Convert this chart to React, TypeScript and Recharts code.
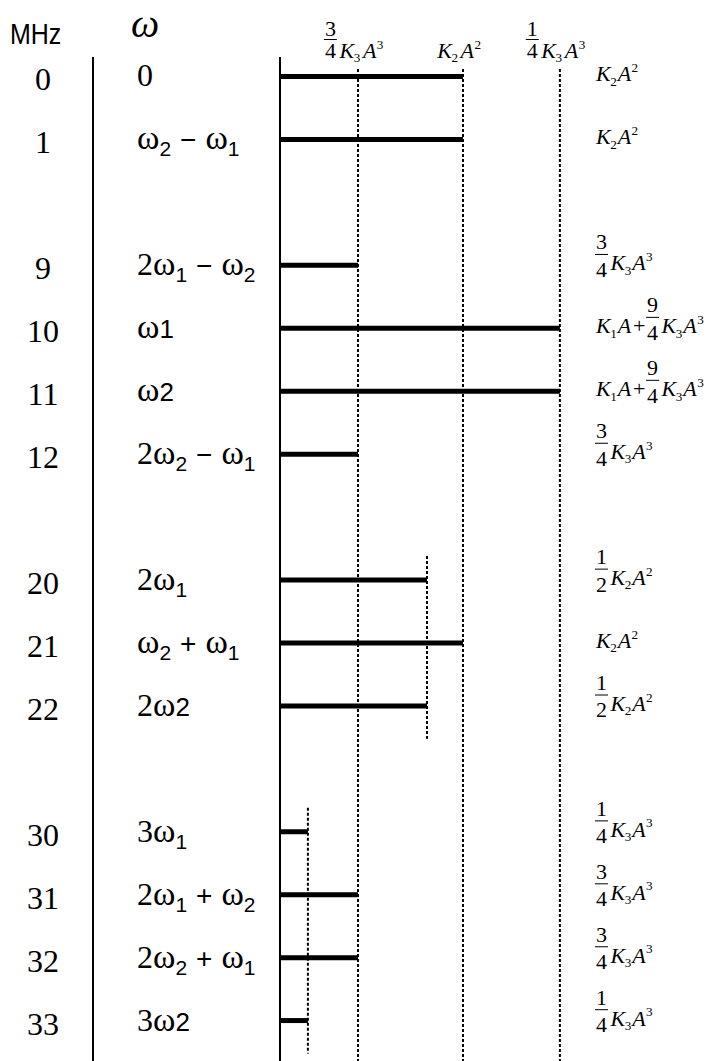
import React from "react";
import { BarChart, Bar, XAxis, YAxis, ReferenceLine } from "recharts";

const SERIF = "'Liberation Serif', 'Times New Roman', serif";
const SANS = "'Liberation Sans', Arial, sans-serif";

// one entry per row, blank rows are the gaps between the groups
const mhzLabels = ["0", "1", "", "9", "10", "11", "12", "", "20", "21", "22", "", "30", "31", "32", "33"];
const omegaLabels = [
  "0", "ω_2 − ω_1", "", "2ω_1 − ω_2", "ω1", "ω2", "2ω_2 − ω_1", "",
  "2ω_1", "ω_2 + ω_1", "2ω2", "", "3ω_1", "2ω_1 + ω_2", "2ω_2 + ω_1", "3ω2",
];
const amplitudeLabels = [
  "K_2 A^2", "K_2 A^2", "", "3/4 K_3 A^3", "K_1 A + 9/4 K_3 A^3", "K_1 A + 9/4 K_3 A^3", "3/4 K_3 A^3", "",
  "1/2 K_2 A^2", "K_2 A^2", "1/2 K_2 A^2", "", "1/4 K_3 A^3", "3/4 K_3 A^3", "3/4 K_3 A^3", "1/4 K_3 A^3",
];
// schematic line lengths, 0..100 across the plot
const amplitudes = [61, 61, null, 26, 93.3, 93.3, 26, null, 49, 61, 49, null, 9.3, 26, 26, 9.3];

// dotted guides
const guideLevels = [26, 61, 93.3];
const guideLabels = ["3/4 K_3 A^3", "K_2 A^2", "1/4 K_3 A^3"];
const shortGuides = [
  { level: 49, from: "20", to: "22" },
  { level: 9.3, from: "30", to: "33" },
];

const rows = mhzLabels.map((m, i) => ({
  key: m || `gap${i}`,
  mhz: m,
  omega: omegaLabels[i],
  amp: amplitudeLabels[i],
  value: amplitudes[i],
}));
const rowByKey: Record<string, any> = {};
rows.forEach((r) => (rowByKey[r.key] = r));

// Times italic advance widths (em)
const LETTER_W: Record<string, number> = { K: 0.667, A: 0.611 };

type FracStyle = { num: number; bar: number; den: number; gap: number };
const ROW_FRAC: FracStyle = { num: -0.95, bar: -0.72, den: 0.3, gap: 0.32 };
const HEAD_FRAC: FracStyle = { num: -1.0, bar: -0.84, den: 0, gap: 0.4 };

// draws things like "K_1 A + 9/4 K_3 A^3", x is the left edge, y the baseline
const formula = (src: string, fs: number, x0: number, y: number, fr: FracStyle) => {
  const out: React.ReactNode[] = [];
  let x = x0;
  const small = fs * 0.6;
  src.split(" ").forEach((tok, i) => {
    if (tok.includes("/")) {
      const [n, d] = tok.split("/");
      const w = 0.5 * fs;
      out.push(
        <g key={i}>
          <text x={x + w / 2} y={y + fr.num * fs} fontSize={fs} fontFamily={SERIF} textAnchor="middle">{n}</text>
          <line x1={x - 1} x2={x + w + 1} y1={y + fr.bar * fs} y2={y + fr.bar * fs} stroke="#000" strokeWidth={1} />
          <text x={x + w / 2} y={y + fr.den * fs} fontSize={fs} fontFamily={SERIF} textAnchor="middle">{d}</text>
        </g>
      );
      x += w + 0.16 * fs;
    } else if (tok === "+") {
      x += 0.08 * fs;
      out.push(<text key={i} x={x} y={y} fontSize={fs} fontFamily={SERIF}>+</text>);
      x += 0.564 * fs + 0.08 * fs;
    } else {
      const m = tok.match(/^([A-Z])(?:_(\d))?(?:\^(\d))?$/);
      if (!m) return;
      out.push(<text key={i} x={x} y={y} fontSize={fs} fontFamily={SERIF} fontStyle="italic">{m[1]}</text>);
      x += (LETTER_W[m[1]] || 0.6) * fs;
      if (m[2]) {
        out.push(<text key={i + "s"} x={x - 0.02 * fs} y={y + 0.2 * fs} fontSize={small} fontFamily={SERIF}>{m[2]}</text>);
        x += fr.gap * fs;
      }
      if (m[3]) {
        out.push(<text key={i + "p"} x={x + 0.02 * fs} y={y - 0.42 * fs} fontSize={small} fontFamily={SERIF}>{m[3]}</text>);
        x += fr.gap * fs;
      }
    }
  });
  return { nodes: out, width: x - x0 };
};

// omega expressions: "ω_1" lowered small subscript, "ω1" plain sans digit
const omegaText = (src: string) => {
  const toks = src.match(/ω|_\d|\d|[−+]|\s+/g) || [];
  const spans: React.ReactNode[] = [];
  let prev = "";
  let shift = 0;
  let pad = 0;
  toks.forEach((t, i) => {
    if (/^\s+$/.test(t)) {
      pad += 9;
      return;
    }
    let dy = -shift;
    shift = 0;
    let props: any = { fontFamily: SERIF, fontSize: 32 };
    let text = t;
    if (t === "ω") {
      props = { fontFamily: SERIF, fontSize: 34 };
    } else if (t.startsWith("_")) {
      text = t.slice(1);
      props = { fontFamily: SANS, fontSize: 21 };
      dy += 7;
      shift = 7;
    } else if (/\d/.test(t) && prev === "ω") {
      props = { fontFamily: SANS, fontSize: 26 };
    } else if (t === "−" || t === "+") {
      props = { fontFamily: SANS, fontSize: 28 };
    }
    spans.push(
      <tspan key={i} dy={dy || undefined} dx={pad || undefined} {...props}>
        {text}
      </tspan>
    );
    pad = 0;
    prev = t;
  });
  return spans;
};

const MhzTick = (props: any) => {
  const { x, y, payload } = props;
  const row = rowByKey[payload.value];
  if (!row || !row.mhz) return null;
  return (
    <text x={x - 50} y={y + 14} textAnchor="middle" fontFamily={SERIF} fontSize={32} fill="#000">
      {row.mhz}
    </text>
  );
};

const OmegaTick = (props: any) => {
  const { x, y, payload } = props;
  const row = rowByKey[payload.value];
  if (!row || !row.omega) return null;
  return (
    <text x={x - 143} y={y + 10} fill="#000">
      {omegaText(row.omega)}
    </text>
  );
};

const AmpTick = (props: any) => {
  const { x, y, payload } = props;
  const row = rowByKey[payload.value];
  if (!row || !row.amp) return null;
  return <g fill="#000">{formula(row.amp, 22, x + 16, y + 5, ROW_FRAC).nodes}</g>;
};

const MhzHeader = (props: any) => {
  const { viewBox } = props;
  if (!viewBox) return null;
  return (
    <text
      transform={`translate(${viewBox.x + 10}, ${viewBox.y - 13}) scale(1, 1.18)`}
      fontFamily={SANS}
      fontSize={25}
      fill="#000"
    >
      MHz
    </text>
  );
};

const OmegaHeader = (props: any) => {
  const { viewBox } = props;
  if (!viewBox) return null;
  return (
    <text x={viewBox.x + 38} y={viewBox.y - 20} fontFamily={SERIF} fontStyle="italic" fontSize={40} fill="#000">
      ω
    </text>
  );
};

const dotted = { stroke: "#000", strokeWidth: 2, strokeDasharray: "3 2" };

// full-height guide with its label on top
const Guide = (props: any) => {
  const { x1, x2, y1, y2, text } = props;
  const top = Math.min(y1, y2) + 12;
  const bottom = Math.max(y1, y2) + 9;
  const probe = formula(text, 22, 0, 0, HEAD_FRAC);
  const f = formula(text, 22, x1 - probe.width / 2 - 3, top - 11, HEAD_FRAC);
  return (
    <g>
      <line x1={x1} x2={x2} y1={top} y2={bottom} {...dotted} />
      <g fill="#000">{f.nodes}</g>
    </g>
  );
};

const ShortGuide = (props: any) => {
  const { x1, x2, y1, y2 } = props;
  return (
    <line
      x1={x1}
      x2={x2}
      y1={Math.min(y1, y2) - 24}
      y2={Math.max(y1, y2) + 33}
      {...dotted}
    />
  );
};

const yPad = { top: -12, bottom: 9 };

export default function App() {
  return (
    <div style={{ position: "absolute", left: 0, top: 0, background: "#fff" }}>
      <BarChart
        width={721}
        height={1061}
        data={rows}
        layout="vertical"
        margin={{ top: 57, right: 0, bottom: 0, left: 0 }}
      >
        <XAxis type="number" domain={[0, 100]} hide />
        <YAxis
          yAxisId="inner"
          type="category"
          dataKey="key"
          width={187}
          padding={yPad}
          interval={0}
          tickLine={false}
          tickSize={0}
          tickMargin={0}
          axisLine={{ stroke: "#000", strokeWidth: 2 }}
          tick={<OmegaTick />}
          label={<OmegaHeader />}
        />
        <YAxis
          yAxisId="outer"
          type="category"
          dataKey="key"
          width={93}
          padding={yPad}
          interval={0}
          tickLine={false}
          tickSize={0}
          tickMargin={0}
          axisLine={{ stroke: "#000", strokeWidth: 2 }}
          tick={<MhzTick />}
          label={<MhzHeader />}
        />
        <YAxis
          yAxisId="right"
          orientation="right"
          type="category"
          dataKey="key"
          width={141}
          padding={yPad}
          interval={0}
          tickLine={false}
          tickSize={0}
          tickMargin={0}
          axisLine={false}
          tick={<AmpTick />}
        />

        {guideLevels.map((lv, i) => (
          <ReferenceLine
            key={lv}
            yAxisId="inner"
            x={lv}
            ifOverflow="visible"
            shape={(p: any) => <Guide {...p} text={guideLabels[i]} />}
          />
        ))}
        {shortGuides.map((g) => (
          <ReferenceLine
            key={g.level}
            yAxisId="inner"
            ifOverflow="visible"
            segment={[
              { x: g.level, y: g.from },
              { x: g.level, y: g.to },
            ]}
            shape={(p: any) => <ShortGuide {...p} />}
          />
        ))}

        <Bar yAxisId="inner" dataKey="value" fill="#000" barSize={5} isAnimationActive={false} />
      </BarChart>
    </div>
  );
}
